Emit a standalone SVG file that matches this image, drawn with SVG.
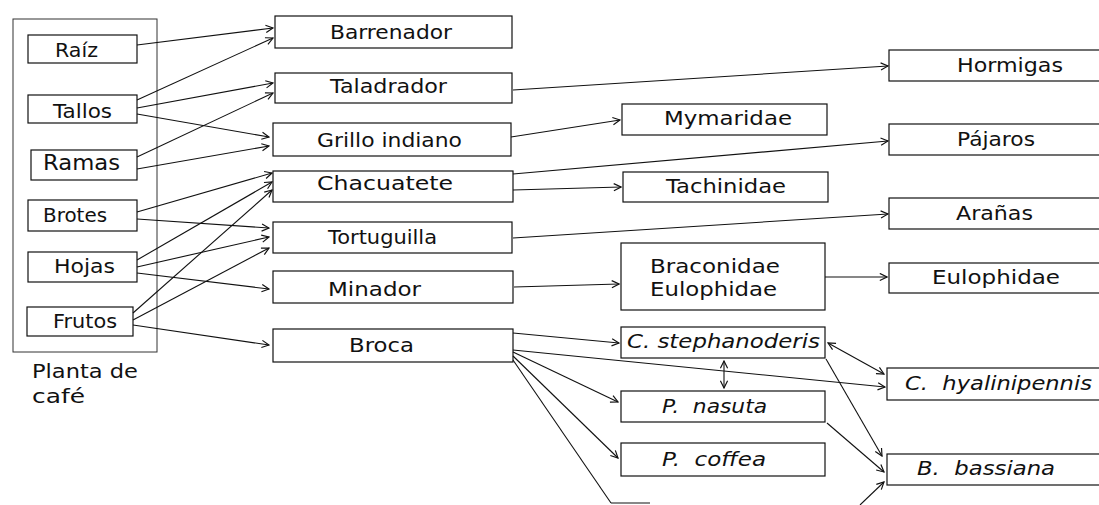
<svg xmlns="http://www.w3.org/2000/svg" width="1099" height="505" viewBox="0 0 1099 505">
<style>
.box{fill:#fff;stroke:#111;stroke-width:1.2}
.outer{fill:none;stroke:#333;stroke-width:1}
text{font-family:"DejaVu Sans","Liberation Sans",sans-serif;font-size:19px;fill:#111}
.it{font-style:italic}
.c line,.c path{stroke:#111;stroke-width:1.1;fill:none}
.a{marker-end:url(#ah)}
.d{marker-start:url(#ah);marker-end:url(#ah)}
</style>
<defs>
<marker id="ah" viewBox="0 0 10 10" refX="9" refY="5" markerWidth="9" markerHeight="9" markerUnits="userSpaceOnUse" orient="auto-start-reverse">
<path d="M1,1 L9,5 L1,9" fill="none" stroke="#111" stroke-width="1.3"/>
</marker>
</defs>
<rect width="1099" height="505" fill="#fff"/>

<g id="planta">
<rect class="outer" x="13" y="19" width="144" height="333"/>
<text x="32" y="378" textLength="106" lengthAdjust="spacingAndGlyphs">Planta de</text>
<text x="32" y="403" textLength="53" lengthAdjust="spacingAndGlyphs">café</text>
</g>
<g id="raiz"><rect class="box" x="28" y="35" width="109" height="28"/><text x="55" y="57" textLength="43" lengthAdjust="spacingAndGlyphs">Raíz</text></g>
<g id="tallos"><rect class="box" x="28" y="95" width="109" height="28"/><text x="53" y="118" textLength="59" lengthAdjust="spacingAndGlyphs">Tallos</text></g>
<g id="ramas"><rect class="box" x="31" y="150" width="106" height="30"/><text x="43" y="170" textLength="77" lengthAdjust="spacingAndGlyphs" style="font-size:21px">Ramas</text></g>
<g id="brotes"><rect class="box" x="28" y="200" width="109" height="31"/><text x="43" y="222" textLength="64" lengthAdjust="spacingAndGlyphs">Brotes</text></g>
<g id="hojas"><rect class="box" x="28" y="252" width="109" height="30"/><text x="54" y="273" textLength="61" lengthAdjust="spacingAndGlyphs">Hojas</text></g>
<g id="frutos"><rect class="box" x="27" y="307" width="106" height="29"/><text x="53" y="328" textLength="64" lengthAdjust="spacingAndGlyphs">Frutos</text></g>

<g id="barrenador"><rect class="box" x="275" y="16" width="237" height="32"/><text x="330" y="39" textLength="122" lengthAdjust="spacingAndGlyphs">Barrenador</text></g>
<g id="taladrador"><rect class="box" x="275" y="73" width="237" height="30"/><text x="330" y="93" textLength="117" lengthAdjust="spacingAndGlyphs">Taladrador</text></g>
<g id="grillo"><rect class="box" x="273" y="123" width="238" height="33"/><text x="317" y="147" textLength="145" lengthAdjust="spacingAndGlyphs">Grillo indiano</text></g>
<g id="chacuatete"><rect class="box" x="273" y="171" width="240" height="31"/><text x="317" y="190" textLength="136" lengthAdjust="spacingAndGlyphs">Chacuatete</text></g>
<g id="tortuguilla"><rect class="box" x="273" y="222" width="239" height="31"/><text x="328" y="244" textLength="109" lengthAdjust="spacingAndGlyphs">Tortuguilla</text></g>
<g id="minador"><rect class="box" x="273" y="271" width="240" height="32"/><text x="328" y="296" textLength="93" lengthAdjust="spacingAndGlyphs">Minador</text></g>
<g id="broca"><rect class="box" x="273" y="329" width="240" height="33"/><text x="349" y="352" textLength="65" lengthAdjust="spacingAndGlyphs">Broca</text></g>

<g id="mymaridae"><rect class="box" x="622" y="104" width="205" height="31"/><text x="664" y="125" textLength="128" lengthAdjust="spacingAndGlyphs">Mymaridae</text></g>
<g id="tachinidae"><rect class="box" x="623" y="172" width="205" height="30"/><text x="666" y="193" textLength="120" lengthAdjust="spacingAndGlyphs">Tachinidae</text></g>
<g id="braconidae"><rect class="box" x="621" y="243" width="204" height="67"/><text x="650" y="273" textLength="130" lengthAdjust="spacingAndGlyphs">Braconidae</text><text x="650" y="296" textLength="127" lengthAdjust="spacingAndGlyphs">Eulophidae</text></g>
<g id="stephanoderis"><rect class="box" x="621" y="327" width="204" height="31"/><text class="it" x="627" y="348" textLength="193" lengthAdjust="spacingAndGlyphs">C. stephanoderis</text></g>
<g id="nasuta"><rect class="box" x="621" y="391" width="204" height="31"/><text class="it" x="662" y="413" textLength="105" lengthAdjust="spacingAndGlyphs" xml:space="preserve">P.  nasuta</text></g>
<g id="coffea"><rect class="box" x="621" y="443" width="204" height="33"/><text class="it" x="662" y="466" textLength="104" lengthAdjust="spacingAndGlyphs" xml:space="preserve">P.  coffea</text></g>
<g id="bottom"><line x1="611" y1="503" x2="650" y2="503" stroke="#111" stroke-width="1.1"/></g>

<g id="hormigas"><rect class="box" x="889" y="50" width="220" height="31"/><text x="957" y="72" textLength="106" lengthAdjust="spacingAndGlyphs">Hormigas</text></g>
<g id="pajaros"><rect class="box" x="889" y="124" width="220" height="31"/><text x="957" y="146" textLength="78" lengthAdjust="spacingAndGlyphs">Pájaros</text></g>
<g id="aranas"><rect class="box" x="889" y="198" width="220" height="31"/><text x="956" y="220" textLength="77" lengthAdjust="spacingAndGlyphs">Arañas</text></g>
<g id="eulophidae"><rect class="box" x="889" y="263" width="220" height="30"/><text x="932" y="284" textLength="128" lengthAdjust="spacingAndGlyphs">Eulophidae</text></g>
<g id="hyalinipennis"><rect class="box" x="887" y="368" width="222" height="32"/><text class="it" x="905" y="390" textLength="187" lengthAdjust="spacingAndGlyphs" xml:space="preserve">C.  hyalinipennis</text></g>
<g id="bassiana"><rect class="box" x="887" y="454" width="222" height="31"/><text class="it" x="917" y="475" textLength="138" lengthAdjust="spacingAndGlyphs" xml:space="preserve">B.  bassiana</text></g>

<g id="connectors" class="c">
<line class="a" x1="137" y1="45" x2="273" y2="28"/>
<line class="a" x1="137" y1="100" x2="273" y2="38"/>
<line class="a" x1="137" y1="108" x2="273" y2="83"/>
<line class="a" x1="137" y1="114" x2="269" y2="137"/>
<line class="a" x1="137" y1="157" x2="273" y2="93"/>
<line class="a" x1="137" y1="169" x2="269" y2="146"/>
<line class="a" x1="137" y1="212" x2="272" y2="173"/>
<line class="a" x1="137" y1="219" x2="269" y2="228"/>
<line class="a" x1="137" y1="260" x2="272" y2="182"/>
<line class="a" x1="137" y1="267" x2="269" y2="237"/>
<line class="a" x1="137" y1="273" x2="269" y2="289"/>
<line class="a" x1="133" y1="313" x2="272" y2="190"/>
<line class="a" x1="133" y1="320" x2="269" y2="248"/>
<line class="a" x1="133" y1="325" x2="269" y2="345"/>
<line class="a" x1="513" y1="90" x2="888" y2="66"/>
<line class="a" x1="511" y1="137" x2="620" y2="120"/>
<line class="a" x1="513" y1="174" x2="888" y2="141"/>
<line class="a" x1="513" y1="190" x2="621" y2="187"/>
<line class="a" x1="513" y1="238" x2="888" y2="214"/>
<line class="a" x1="514" y1="287" x2="619" y2="284"/>
<line class="a" x1="825" y1="277" x2="887" y2="277"/>
<line class="a" x1="513" y1="333" x2="619" y2="343"/>
<line class="a" x1="513" y1="350" x2="885" y2="387"/>
<line class="a" x1="513" y1="352" x2="618" y2="402"/>
<line class="a" x1="513" y1="356" x2="618" y2="458"/>
<line x1="513" y1="360" x2="611" y2="503"/>
<line class="d" x1="828" y1="343" x2="884" y2="374"/>
<line class="d" x1="724" y1="361" x2="724" y2="388"/>
<line class="a" x1="826" y1="359" x2="882" y2="456"/>
<line class="a" x1="827" y1="423" x2="884" y2="472"/>
<line class="a" x1="860" y1="505" x2="884" y2="482"/>
</g>
</svg>
